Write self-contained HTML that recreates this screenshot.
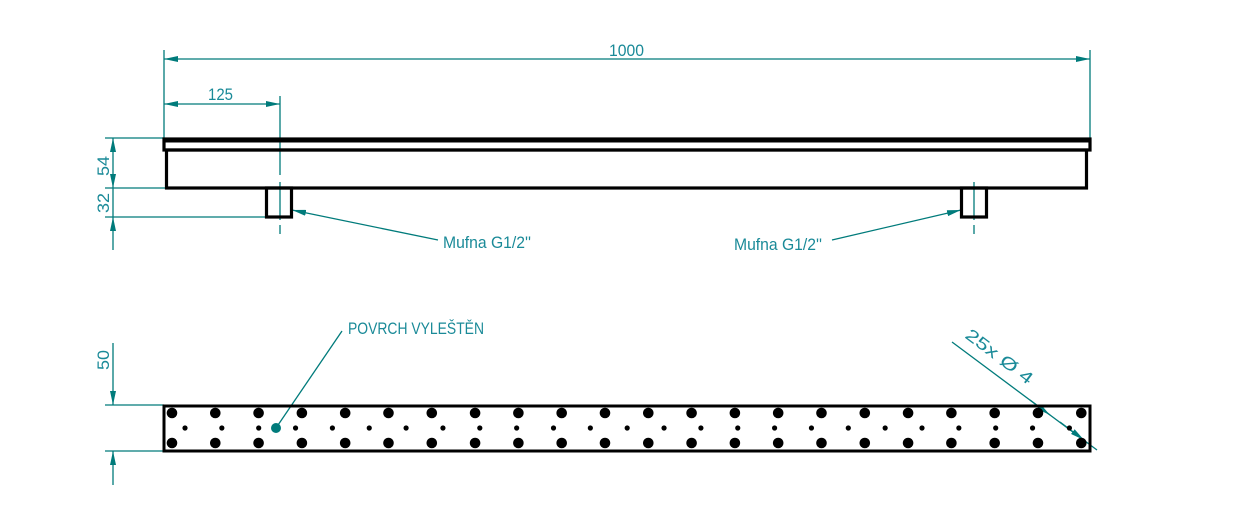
<!DOCTYPE html>
<html><head><meta charset="utf-8"><style>
html,body{margin:0;padding:0;background:#fff}
svg{display:block}
text{font-family:"Liberation Sans",sans-serif;fill:#1a8a98;font-size:17px}
</style></head><body>
<svg width="1239" height="523" viewBox="0 0 1239 523" xmlns="http://www.w3.org/2000/svg">
<defs>
<marker id="a" viewBox="0 0 14 6" refX="14" refY="3" markerWidth="14" markerHeight="6" markerUnits="userSpaceOnUse" orient="auto-start-reverse"><path d="M0,0 L14,3 L0,6 Z" fill="#007b7b"/></marker>
</defs>
<g stroke="#007b7b" stroke-width="1.3" fill="none">
<line x1="164" y1="50" x2="164" y2="138"/>
<line x1="1090" y1="50" x2="1090" y2="138"/>
<line x1="164" y1="59" x2="1090" y2="59" marker-start="url(#a)" marker-end="url(#a)"/>
<line x1="164" y1="104" x2="280" y2="104" marker-start="url(#a)" marker-end="url(#a)"/>
<line x1="280" y1="96" x2="280" y2="175"/>
<line x1="280" y1="182" x2="280" y2="220"/>
<line x1="280" y1="225" x2="280" y2="234"/>
<line x1="974" y1="182" x2="974" y2="220"/>
<line x1="974" y1="225" x2="974" y2="234"/>
<line x1="105" y1="138" x2="164" y2="138"/>
<line x1="105" y1="188" x2="166" y2="188"/>
<line x1="105" y1="217" x2="266" y2="217"/>
<line x1="113" y1="138" x2="113" y2="188" marker-start="url(#a)" marker-end="url(#a)"/>
<line x1="113" y1="188" x2="113" y2="217"/>
<line x1="113" y1="217" x2="113" y2="250"/>
<path d="M113,217 l-3,14 h6 z" fill="#007b7b" stroke="none"/>
<line x1="292" y1="210" x2="438" y2="240" marker-start="url(#a)"/>
<line x1="961" y1="210" x2="832" y2="240" marker-start="url(#a)"/>
<line x1="105" y1="405" x2="164" y2="405"/>
<line x1="105" y1="451" x2="164" y2="451"/>
<line x1="113" y1="343" x2="113" y2="405" marker-end="url(#a)"/>
<line x1="113" y1="451" x2="113" y2="485" marker-start="url(#a)"/>
<line x1="276" y1="428" x2="342" y2="331"/>
<line x1="952" y1="342" x2="1097" y2="450"/>
<line x1="1030" y1="400" x2="1050" y2="415" marker-end="url(#a)"/>
<line x1="1060" y1="422" x2="1084" y2="440" marker-end="url(#a)"/>
</g>
<circle cx="276" cy="428" r="5" fill="#007b7b"/>
<g stroke="#000" stroke-width="3.2" fill="none">
<line x1="163" y1="140" x2="1091" y2="140" stroke-width="5"/>
<rect x="164" y="139" width="926" height="11"/>
<rect x="166.5" y="150" width="920" height="38"/>
<rect x="266.5" y="188" width="25" height="29"/>
<rect x="961.5" y="188" width="25" height="29"/>
<rect x="164" y="406" width="926" height="45" stroke-width="3"/>
</g>
<g id="holes" fill="#000"></g>
<script>
(function(){var g=document.getElementById('holes'),ns='http://www.w3.org/2000/svg';
for(var i=0;i<22;i++){var x=172+i*43.3;[413,443].forEach(function(y){var c=document.createElementNS(ns,'circle');c.setAttribute('cx',x);c.setAttribute('cy',y);c.setAttribute('r',5.3);g.appendChild(c);});}
for(var j=0;j<25;j++){var c=document.createElementNS(ns,'circle');c.setAttribute('cx',185+j*36.85);c.setAttribute('cy',428);c.setAttribute('r',2.6);g.appendChild(c);}
})();
</script>
<text x="609" y="56" textLength="35" lengthAdjust="spacingAndGlyphs">1000</text>
<text x="208" y="100" textLength="25" lengthAdjust="spacingAndGlyphs">125</text>
<text transform="translate(109,176) rotate(-90)" textLength="20" lengthAdjust="spacingAndGlyphs">54</text>
<text transform="translate(109,213) rotate(-90)" textLength="20" lengthAdjust="spacingAndGlyphs">32</text>
<text transform="translate(109,370) rotate(-90)" textLength="20" lengthAdjust="spacingAndGlyphs">50</text>
<text x="443" y="248" textLength="88" lengthAdjust="spacingAndGlyphs">Mufna G1/2''</text>
<text x="734" y="250" textLength="88" lengthAdjust="spacingAndGlyphs">Mufna G1/2''</text>
<text x="348" y="334" textLength="136" lengthAdjust="spacingAndGlyphs">POVRCH VYLEŠTĚN</text>
<text transform="translate(964,337) rotate(37)" textLength="80" lengthAdjust="spacingAndGlyphs">25x  Ø  4</text>
</svg>
</body></html>
